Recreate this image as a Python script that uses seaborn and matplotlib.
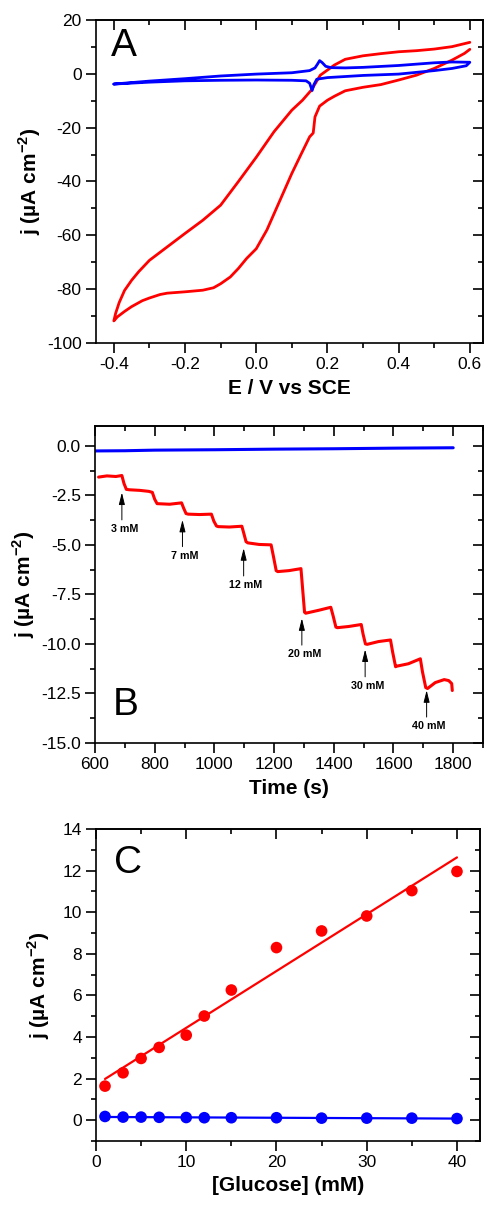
import matplotlib
matplotlib.use("Agg")
import matplotlib.pyplot as plt
from matplotlib.ticker import MultipleLocator, FormatStrFormatter
import seaborn as sns

# ---- Panel A: cyclic voltammograms (E / V vs SCE, j / uA cm-2) ----
cv_red_E = [0.60, 0.55, 0.50, 0.45, 0.40, 0.35, 0.30, 0.25, 0.22, 0.20, 0.18,
            0.155, 0.13, 0.10, 0.05, 0.00, -0.05, -0.10, -0.15, -0.20, -0.25,
            -0.30, -0.33, -0.35, -0.37, -0.385, -0.395, -0.40,
            -0.39, -0.37, -0.35, -0.32, -0.30, -0.27, -0.25, -0.20, -0.15,
            -0.12, -0.10, -0.073, -0.05, -0.027, 0.00, 0.03, 0.05, 0.075, 0.10,
            0.127, 0.15, 0.16, 0.165, 0.178, 0.20, 0.22, 0.25, 0.30, 0.35, 0.40,
            0.45, 0.50, 0.55, 0.585, 0.60]
cv_red_j = [11.7, 10.1, 9.2, 8.6, 8.2, 7.5, 6.7, 5.4, 3.3, 1.4, -0.5,
            -6.0, -9.8, -13.5, -21.5, -31.0, -40.0, -48.8, -54.4, -59.3, -64.3,
            -69.3, -73.5, -76.7, -80.5, -85.0, -89.0, -91.8,
            -90.3, -88.3, -86.5, -84.3, -83.3, -82.0, -81.5, -81.0, -80.4,
            -79.5, -78.0, -75.5, -72.3, -68.6, -65.0, -58.0, -52.0, -44.5, -37.0,
            -29.6, -23.4, -22.0, -16.0, -12.0, -9.8, -8.3, -6.3, -5.0, -4.0, -2.3,
            -0.5, 2.0, 5.1, 7.6, 9.1]

cv_blue_E = [-0.40, -0.30, -0.20, -0.10, 0.00, 0.10, 0.15, 0.165, 0.172, 0.178,
             0.185, 0.195, 0.21, 0.25, 0.30, 0.40, 0.50, 0.55, 0.60,
             0.59, 0.55, 0.50, 0.40, 0.30, 0.20, 0.17, 0.162, 0.157, 0.150,
             0.14, 0.10, 0.00, -0.10, -0.20, -0.30, -0.40]
cv_blue_j = [-3.8, -2.7, -1.8, -0.8, -0.1, 0.4, 1.2, 2.2, 3.6, 4.9,
             4.2, 2.8, 2.3, 2.2, 2.4, 3.1, 4.1, 4.4, 4.3,
             3.0, 2.0, 1.2, -0.1, -0.6, -1.4, -2.0, -4.0, -6.2, -3.5,
             -2.6, -2.4, -2.3, -2.4, -2.6, -3.1, -3.8]

# ---- Panel B: amperometric response (Time / s, j / uA cm-2) ----
amp_red_t = [612, 640, 670, 690, 697, 705, 715, 750, 780, 792, 800, 808, 850,
             890, 897, 905, 912, 950, 990, 998, 1007, 1013, 1050, 1092, 1100,
             1106, 1112, 1150, 1190, 1198, 1207, 1212, 1250, 1290, 1296, 1302,
             1306, 1350, 1390, 1398, 1407, 1412, 1450, 1492, 1498, 1506, 1512,
             1550, 1590, 1597, 1607, 1612, 1650, 1690, 1697, 1708, 1714, 1740,
             1770, 1785, 1795, 1797]
amp_red_j = [-1.58, -1.52, -1.55, -1.50, -1.9, -2.2, -2.22, -2.25, -2.3, -2.35,
             -2.7, -2.92, -2.95, -2.88, -3.15, -3.42, -3.45, -3.47, -3.45, -3.8,
             -4.05, -4.08, -4.1, -4.06, -4.5, -4.84, -4.9, -4.98, -5.0, -5.6,
             -6.3, -6.35, -6.3, -6.2, -7.3, -8.4, -8.45, -8.3, -8.15, -8.6,
             -9.15, -9.18, -9.12, -9.02, -9.5, -10.0, -10.02, -9.88, -9.8, -10.4,
             -11.15, -11.12, -11.0, -10.75, -11.4, -12.2, -12.25, -11.95, -11.8,
             -11.85, -12.0, -12.35]
amp_blue_t = [600, 700, 800, 1000, 1200, 1400, 1600, 1800]
amp_blue_j = [-0.26, -0.25, -0.22, -0.20, -0.17, -0.15, -0.12, -0.10]

add_labels = ["3 mM", "7 mM", "12 mM", "20 mM", "30 mM", "40 mM"]
add_times = [690, 893, 1098, 1293, 1505, 1711]
arrow_head_j = [-2.36, -3.74, -5.17, -8.71, -10.28, -12.34]
arrow_tail_j = [-3.74, -5.09, -6.57, -10.06, -11.66, -13.69]

# ---- Panel C: calibration ----
glucose_mM = [1, 3, 5, 7, 10, 12, 15, 20, 25, 30, 35, 40]
cal_red_j = [1.64, 2.28, 2.97, 3.50, 4.09, 5.01, 6.26, 8.30, 9.10, 9.82, 11.04, 11.96]
cal_blue_j = [0.18, 0.15, 0.15, 0.14, 0.13, 0.12, 0.12, 0.12, 0.10, 0.10, 0.10, 0.08]

RED = "#ff0000"
BLUE = "#0000ff"
YLABEL = r"j (µA cm$^{\mathbf{-2}}$)"

sns.set_theme(style="ticks", font="Liberation Sans")
plt.rcParams.update({
    "font.family": ["Liberation Sans", "DejaVu Sans"],
    "axes.unicode_minus": False,
    "mathtext.fontset": "custom",
    "mathtext.rm": "Liberation Sans",
    "mathtext.bf": "Liberation Sans:bold",
    "text.color": "black",
    "axes.labelcolor": "black",
    "axes.linewidth": 1.2,
    "axes.edgecolor": "black",
    "xtick.color": "black",
    "ytick.color": "black",
    "xtick.labelsize": 12.5,
    "ytick.labelsize": 12.5,
    "axes.labelsize": 15,
    "axes.labelweight": "bold",
})


def style_axes(ax, xmaj, xmin, ymaj, ymin, xfmt=None, yfmt=None):
    ax.xaxis.set_major_locator(MultipleLocator(xmaj))
    ax.xaxis.set_minor_locator(MultipleLocator(xmin))
    ax.yaxis.set_major_locator(MultipleLocator(ymaj))
    ax.yaxis.set_minor_locator(MultipleLocator(ymin))
    if xfmt:
        ax.xaxis.set_major_formatter(FormatStrFormatter(xfmt))
    if yfmt:
        ax.yaxis.set_major_formatter(FormatStrFormatter(yfmt))
    ax.tick_params(which="major", direction="out", length=7.2, width=1.2, pad=3)
    ax.tick_params(which="minor", direction="out", length=3.6, width=1.2)
    # mirrored ticks pointing inward on top and right
    top = ax.secondary_xaxis("top")
    top.xaxis.set_major_locator(MultipleLocator(xmaj))
    top.xaxis.set_minor_locator(MultipleLocator(xmin))
    right = ax.secondary_yaxis("right")
    right.yaxis.set_major_locator(MultipleLocator(ymaj))
    right.yaxis.set_minor_locator(MultipleLocator(ymin))
    for sec in (top, right):
        sec.tick_params(which="major", direction="in", length=7.2, width=1.2,
                        labeltop=False, labelright=False)
        sec.tick_params(which="minor", direction="in", length=3.6, width=1.2)
    for sp in ax.spines.values():
        sp.set_visible(True)
        sp.set_linewidth(1.2)


fig = plt.figure(figsize=(4.84, 12.05), dpi=100)

# Panel A
ax_a = fig.add_axes([0.198, 0.7154, 0.7996, 0.268])
sns.lineplot(x=cv_red_E, y=cv_red_j, sort=False, estimator=None, color=RED,
             lw=2.0, ax=ax_a)
sns.lineplot(x=cv_blue_E, y=cv_blue_j, sort=False, estimator=None, color=BLUE,
             lw=2.0, ax=ax_a)
ax_a.set_xlim(-0.4506, 0.6365)
ax_a.set_ylim(-100, 20)
style_axes(ax_a, 0.2, 0.1, 20, 10, xfmt="%.1f")
ax_a.set_xlabel("E / V vs SCE", labelpad=5)
ax_a.set_ylabel(YLABEL)
ax_a.yaxis.set_label_coords(-0.137, 0.5)
ax_a.text(0.04, 0.975, "A", transform=ax_a.transAxes, fontsize=28,
          ha="left", va="top")

# Panel B
ax_b = fig.add_axes([0.1963, 0.3834, 0.8017, 0.2631])
sns.lineplot(x=amp_blue_t, y=amp_blue_j, sort=False, estimator=None,
             color=BLUE, lw=2.2, ax=ax_b)
sns.lineplot(x=amp_red_t, y=amp_red_j, sort=False, estimator=None,
             color=RED, lw=2.2, ax=ax_b)
for lab, t, jh, jt in zip(add_labels, add_times, arrow_head_j, arrow_tail_j):
    ax_b.annotate("", xy=(t, jh), xytext=(t, jt),
                  arrowprops=dict(arrowstyle="-|>,head_length=0.6,head_width=0.15",
                                  color="black", lw=0.7, shrinkA=0, shrinkB=0))
    ax_b.text(t + 8, jt - 0.2, lab, fontsize=7.7, fontweight="bold",
              ha="center", va="top")
ax_b.set_xlim(600, 1900)
ax_b.set_ylim(-15, 1)
style_axes(ax_b, 200, 100, 2.5, 1.25, yfmt="%.1f")
ax_b.set_xlabel("Time (s)", labelpad=5)
ax_b.set_ylabel(YLABEL)
ax_b.yaxis.set_label_coords(-0.15, 0.5)
ax_b.text(0.046, 0.088, "B", transform=ax_b.transAxes, fontsize=28,
          ha="left", va="baseline")

# Panel C
ax_c = fig.add_axes([0.1983, 0.0531, 0.7934, 0.2589])
for yvals, col in ((cal_red_j, RED), (cal_blue_j, BLUE)):
    sns.regplot(x=glucose_mM, y=yvals, ci=None, color=col, ax=ax_c,
                scatter_kws=dict(s=70, alpha=1, edgecolor="none", zorder=3),
                line_kws=dict(lw=1.6, zorder=2))
ax_c.set_xlim(0, 42.55)
ax_c.set_ylim(-1, 14)
style_axes(ax_c, 10, 5, 2, 1)
ax_c.set_xlabel("[Glucose] (mM)", labelpad=4)
ax_c.set_ylabel(YLABEL)
ax_c.yaxis.set_label_coords(-0.115, 0.5)
ax_c.text(0.046, 0.95, "C", transform=ax_c.transAxes, fontsize=28,
          ha="left", va="top")

fig.savefig("out.png", dpi=100)
